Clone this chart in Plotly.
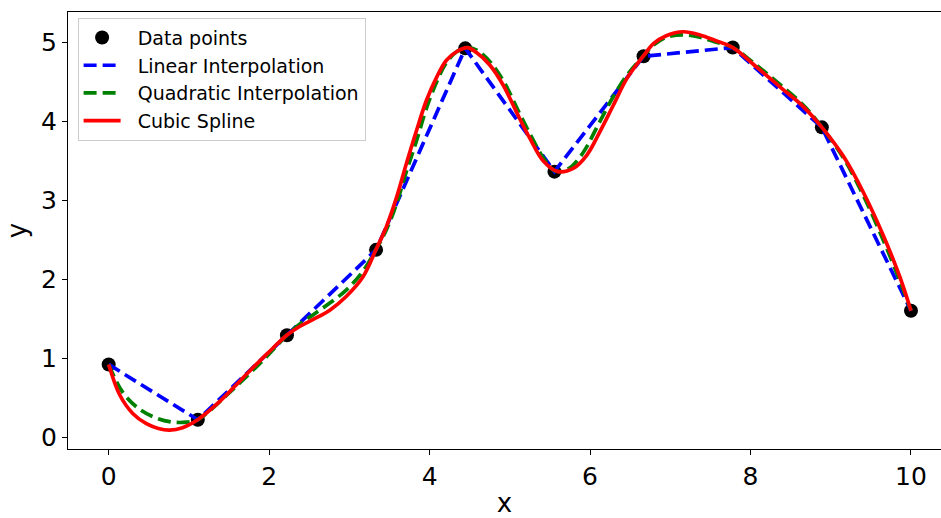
import plotly.graph_objects as go

# Data points
x_points = [0.0, 1.111, 2.222, 3.333, 4.444, 5.556, 6.667, 7.778, 8.889, 10.0]
y_points = [0.92, 0.22, 1.29, 2.37, 4.92, 3.36, 4.82, 4.93, 3.92, 1.60]

# Quadratic interpolation curve
quad_x = [0, 0.18, 0.39, 0.60, 0.80, 0.97, 1.11, 1.22, 1.47, 1.72, 1.97, 2.22, 2.38, 2.55,
          2.76, 2.96, 3.17, 3.33, 3.46, 3.59, 3.71, 3.84, 3.96, 4.09, 4.21, 4.34, 4.47,
          4.60, 4.77, 4.94, 5.10, 5.27, 5.42, 5.56, 5.72, 5.90, 6.12, 6.29, 6.46, 6.67,
          6.79, 6.95, 7.16, 7.37, 7.56, 7.78, 8.08, 8.37, 8.66, 8.89, 9.16, 9.41, 9.66,
          9.86, 10.0]
quad_y = [0.92, 0.56, 0.35, 0.24, 0.19, 0.19, 0.22, 0.30, 0.53, 0.77, 1.02, 1.29, 1.43, 1.55,
          1.70, 1.86, 2.10, 2.37, 2.62, 2.96, 3.36, 3.76, 4.16, 4.50, 4.74, 4.88, 4.93,
          4.89, 4.73, 4.47, 4.14, 3.80, 3.53, 3.37, 3.39, 3.58, 3.99, 4.31, 4.58, 4.83,
          4.96, 5.06, 5.09, 5.06, 5.00, 4.93, 4.70, 4.46, 4.20, 3.92, 3.53, 3.05, 2.48,
          1.98, 1.60]

# Cubic spline curve
cubic_x = [0, 0.14, 0.30, 0.47, 0.62, 0.76, 0.92, 1.11, 1.35, 1.55, 1.76, 1.97, 2.22, 2.38,
           2.55, 2.76, 2.96, 3.17, 3.33, 3.46, 3.59, 3.71, 3.84, 3.96, 4.09, 4.21, 4.34,
           4.47, 4.58, 4.75, 4.92, 5.08, 5.25, 5.42, 5.60, 5.79, 5.96, 6.12, 6.29, 6.46,
           6.67, 6.79, 6.95, 7.16, 7.37, 7.56, 7.78, 8.08, 8.37, 8.66, 8.89, 9.16, 9.41,
           9.66, 9.86, 10.0]
cubic_y = [0.92, 0.53, 0.30, 0.17, 0.11, 0.09, 0.12, 0.22, 0.42, 0.62, 0.84, 1.05, 1.29, 1.40,
           1.49, 1.61, 1.78, 2.03, 2.37, 2.66, 3.04, 3.46, 3.89, 4.26, 4.56, 4.77, 4.88,
           4.93, 4.87, 4.71, 4.45, 4.12, 3.78, 3.49, 3.36, 3.40, 3.57, 3.86, 4.20, 4.54,
           4.83, 4.98, 5.08, 5.13, 5.09, 5.02, 4.93, 4.68, 4.43, 4.18, 3.92, 3.55, 3.09,
           2.54, 2.03, 1.60]

x_ticks = [0, 2, 4, 6, 8, 10]
y_ticks = [0, 1, 2, 3, 4, 5]

FONT = "DejaVu Sans"
PAD = "\u00a0\u00a0"

fig = go.Figure()
fig.add_trace(go.Scatter(x=x_points, y=y_points, mode="markers", name=PAD + "Data points",
                         marker=dict(color="black", size=14)))
fig.add_trace(go.Scatter(x=x_points, y=y_points, mode="lines", name=PAD + "Linear Interpolation",
                         line=dict(color="#0000ff", width=3.7, dash="13px,6px")))
fig.add_trace(go.Scatter(x=quad_x, y=quad_y, mode="lines", name=PAD + "Quadratic Interpolation",
                         line=dict(color="#008000", width=3.7, dash="13px,6px", shape="spline")))
fig.add_trace(go.Scatter(x=cubic_x, y=cubic_y, mode="lines", name=PAD + "Cubic Spline",
                         line=dict(color="#ff0000", width=3.7, shape="spline")))

fig.update_layout(
    width=941, height=518,
    template="none",
    paper_bgcolor="white", plot_bgcolor="white",
    margin=dict(l=68, r=0, t=12, b=69),
    font=dict(family=FONT, color="black"),
    showlegend=True,
    legend=dict(x=0.011, y=0.987, xanchor="left", yanchor="top",
                bgcolor="rgba(255,255,255,0.8)", bordercolor="#cccccc", borderwidth=1,
                font=dict(family=FONT, size=19, color="black"),
                itemwidth=37, tracegroupgap=0),
    xaxis=dict(range=[-0.507, 10.374], tickvals=x_ticks, ticks="outside", ticklen=5,
               tickwidth=1, tickcolor="black", showline=True, linecolor="black", linewidth=1,
               mirror=True, showgrid=False, zeroline=False, automargin=False,
               tickfont=dict(family=FONT, size=25),
               title=dict(text="x", font=dict(family=FONT, size=26), standoff=10)),
    yaxis=dict(range=[-0.15, 5.38], tickvals=y_ticks, ticks="outside", ticklen=5,
               tickwidth=1, tickcolor="black", showline=True, linecolor="black", linewidth=1,
               mirror=False, showgrid=False, zeroline=False, automargin=False,
               tickfont=dict(family=FONT, size=25),
               title=dict(text="y", font=dict(family=FONT, size=26), standoff=6)),
)

fig.write_html("out.html",
               config={"displayModeBar": False},
               post_script="document.body.style.margin='0';document.body.style.overflow='hidden';")
